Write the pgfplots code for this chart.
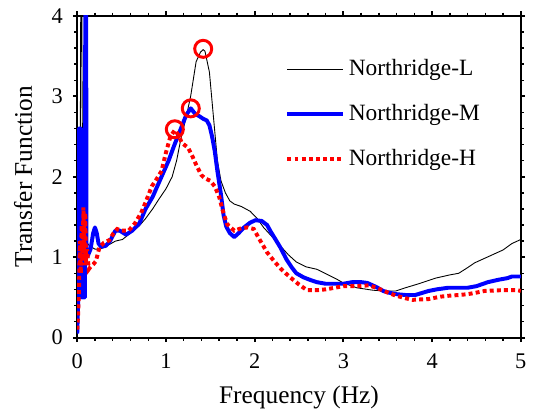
\documentclass[border=0pt]{standalone}
\usepackage{pgfplots}
\pgfplotsset{compat=1.18}
\usepackage{fontspec}
\setmainfont{Liberation Serif}
\begin{document}
\begin{tikzpicture}
% fixed page frame (1 px = 0.5 pt)
\path (-39pt,-34pt) rectangle (227.5pt,170.5pt);
\begin{axis}[
    at={(0pt,0pt)}, anchor=south west,
    scale only axis,
    width=224pt, height=162.5pt,
    xmin=0, xmax=5, ymin=0, ymax=4,
    xtick={0,1,...,5}, ytick={0,1,...,4},
    minor x tick num=4, minor y tick num=4,
    tick pos=both, tick align=outside,
    major tick length=2.2pt, minor tick length=1.6pt,
    every major tick/.style={line width=1pt, black},
    every minor tick/.style={line width=0.7pt, black},
    axis line style={line width=0.9pt},
    /pgf/number format/assume math mode=true,
    ticklabel style={font=\fontsize{11.3}{13}\selectfont},
    xticklabel style={yshift=-2.5pt},
    yticklabel style={xshift=-1.5pt},
    xlabel={Frequency (Hz)}, ylabel={Transfer Function},
    label style={font=\fontsize{12.8}{15}\selectfont},
    xlabel style={yshift=-1.5pt},
    ylabel style={yshift=3pt},
    legend style={at={(0.455,0.89)}, anchor=north west, draw=none, fill=none,
        font=\fontsize{11.8}{14}\selectfont, row sep=9pt},
    legend cell align=left,
    legend image code/.code={\draw[#1] (0pt,0pt) -- (28pt,0pt);},
]

% Northridge-L
\addplot[black, line width=0.45pt] coordinates {
(0,0.1)(0.02,0.8)(0.035,2.5)(0.045,6)(0.055,3)(0.065,1.5)(0.08,1.25)(0.1,1.2)
(0.13,1.15)(0.17,1.12)(0.2,1.1)(0.25,1.1)(0.3,1.12)(0.35,1.15)(0.43,1.2)(0.51,1.22)
(0.6,1.3)(0.7,1.39)(0.77,1.48)(0.85,1.6)(0.92,1.72)(1.0,1.85)(1.07,2.0)(1.12,2.2)
(1.17,2.48)(1.23,2.75)(1.28,3.01)(1.34,3.43)(1.39,3.55)(1.42,3.58)(1.44,3.56)(1.49,3.3)
(1.53,2.81)(1.58,2.2)(1.62,1.95)(1.67,1.8)(1.72,1.7)(1.77,1.66)(1.85,1.63)(1.95,1.57)
(2.03,1.48)(2.1,1.37)(2.2,1.25)(2.29,1.14)(2.38,1.03)(2.47,0.94)(2.58,0.88)(2.70,0.85)
(2.81,0.79)(2.92,0.73)(3.0,0.68)(3.15,0.62)(3.33,0.59)(3.45,0.58)(3.59,0.58)(3.7,0.62)
(3.85,0.67)(4.04,0.74)(4.2,0.78)(4.3,0.8)(4.4,0.87)(4.48,0.93)(4.6,0.99)(4.7,1.04)
(4.8,1.09)(4.9,1.17)(5.0,1.22)
};
% Northridge-M
\addplot[blue, line width=2pt, line join=round] coordinates {
(0,0.05)(0.012,0.5)(0.018,2.6)(0.022,0.5)(0.027,2.6)(0.031,0.5)(0.036,2.6)(0.040,0.5)
(0.045,2.6)(0.049,0.5)(0.054,2.5)(0.058,0.5)(0.063,2.5)(0.067,0.5)(0.072,2.4)(0.076,0.5)
(0.081,2.2)(0.086,0.5)(0.092,5)(0.1,5)(0.104,1.0)(0.12,1.02)
(0.15,1.1)(0.18,1.3)(0.2,1.37)(0.22,1.3)(0.24,1.17)(0.27,1.13)(0.32,1.14)(0.37,1.2)
(0.43,1.33)(0.48,1.33)(0.55,1.28)(0.62,1.33)(0.7,1.42)(0.77,1.6)(0.85,1.75)(0.91,1.9)
(0.97,2.05)(1.03,2.2)(1.09,2.38)(1.14,2.52)(1.19,2.66)(1.23,2.77)(1.28,2.85)(1.33,2.78)
(1.38,2.75)(1.42,2.72)(1.46,2.7)(1.49,2.64)(1.52,2.5)(1.55,2.32)(1.58,2.07)(1.62,1.78)
(1.65,1.52)(1.68,1.38)(1.72,1.3)(1.77,1.25)(1.82,1.3)(1.88,1.37)(1.95,1.43)(2.01,1.46)
(2.08,1.45)(2.14,1.4)(2.18,1.32)(2.23,1.23)(2.29,1.12)(2.36,0.97)(2.42,0.87)(2.47,0.8)
(2.55,0.75)(2.62,0.72)(2.7,0.69)(2.8,0.67)(2.9,0.67)(3.0,0.67)(3.1,0.69)(3.2,0.69)
(3.27,0.68)(3.37,0.63)(3.45,0.58)(3.51,0.56)(3.6,0.54)(3.7,0.53)(3.81,0.53)(3.9,0.56)
(3.96,0.58)(4.05,0.6)(4.18,0.62)(4.3,0.62)(4.4,0.62)(4.5,0.64)(4.63,0.69)(4.75,0.72)
(4.85,0.74)(4.9,0.76)(5.0,0.76)
};
% Northridge-H
\addplot[red, line width=2pt, dash pattern=on 2pt off 1.6pt] coordinates {
(0,0.1)(0.01,0.3)(0.02,0.6)(0.03,1.2)(0.04,0.8)(0.05,1.4)(0.06,0.9)(0.07,1.62)
(0.08,1.0)(0.09,1.55)(0.1,0.9)(0.11,1.1)(0.13,0.85)(0.15,0.88)(0.18,0.91)(0.21,0.95)
(0.25,1.12)(0.3,1.18)(0.36,1.21)(0.41,1.3)(0.45,1.35)(0.5,1.33)(0.58,1.33)(0.65,1.42)
(0.72,1.55)(0.77,1.68)(0.84,1.88)(0.9,1.98)(0.95,2.07)(1.0,2.3)(1.05,2.5)(1.1,2.58)
(1.14,2.52)(1.18,2.42)(1.25,2.36)(1.3,2.25)(1.34,2.15)(1.4,2.02)(1.44,1.98)(1.5,1.95)
(1.55,1.88)(1.6,1.75)(1.64,1.58)(1.69,1.41)(1.77,1.33)(1.85,1.36)(1.92,1.37)(1.99,1.35)
(2.05,1.23)(2.14,1.06)(2.22,0.95)(2.3,0.85)(2.4,0.75)(2.5,0.66)(2.59,0.59)(2.7,0.59)
(2.8,0.6)(2.9,0.62)(3.0,0.64)(3.14,0.64)(3.29,0.65)(3.37,0.62)(3.44,0.59)(3.52,0.55)
(3.6,0.52)(3.7,0.49)(3.78,0.47)(3.96,0.48)(4.1,0.51)(4.18,0.52)(4.3,0.53)(4.4,0.54)
(4.5,0.56)(4.59,0.58)(4.78,0.59)(4.96,0.59)(5.0,0.58)
};
\legend{Northridge-L, Northridge-M, Northridge-H}

% peak markers
\addplot[only marks, mark=o, red, mark size=4.3pt, mark options={line width=1.5pt}, forget plot]
coordinates {(1.42,3.59) (1.28,2.85) (1.10,2.59)};
\end{axis}
\end{tikzpicture}
\end{document}
